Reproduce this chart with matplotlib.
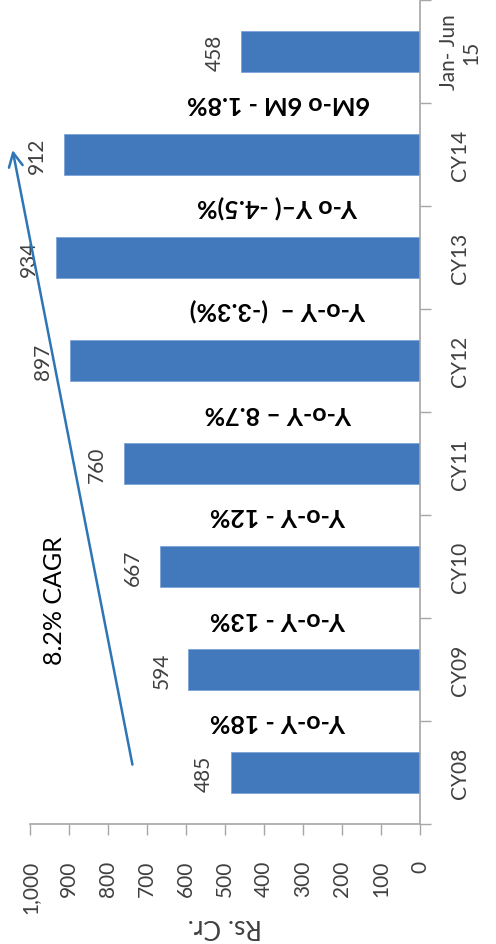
import matplotlib
matplotlib.use("Agg")
import matplotlib.pyplot as plt
import numpy as np

plt.rcParams['font.family'] = ['Lato', 'DejaVu Sans']

categories = ["CY08", "CY09", "CY10", "CY11", "CY12", "CY13", "CY14", "Jan- Jun\n15"]
values = [485, 594, 667, 760, 897, 934, 912, 458]
growth_labels = ["Y-o-Y - 18%", "Y-o-Y - 13%", "Y-o-Y - 12%", "Y-o-Y \u2013 8.7%",
                 "Y-o-Y \u2013  (-3.3%)", "Y-o Y\u2013( -4.5)%", "6M-o 6M - 1.8%"]
value_ticks = [0, 100, 200, 300, 400, 500, 600, 700, 800, 900, 1000]
value_tick_labels = ["0", "100", "200", "300", "400", "500", "600", "700", "800", "900", "1,000"]
cagr_label = "8.2% CAGR"
axis_label = "Rs. Cr."

W, H = 496, 945
fig = plt.figure(figsize=(W / 100, H / 100), dpi=100)
ax = fig.add_axes([30 / W, (H - 825) / H, 390 / W, 824 / H])

bar_color = '#4279BD'
grey = '#A6A6A6'
txt = '#404040'
pos = np.arange(len(categories))
ax.barh(pos, values, height=0.39, color=bar_color, edgecolor='#7DA3D6', linewidth=0.6)

ax.set_xlim(1000, 0)
ax.set_ylim(-0.5, len(categories) - 0.5)

# value axis (bottom)
ax.set_xticks(value_ticks)
ax.set_xticklabels(value_tick_labels, rotation=90, fontsize=15, color=txt)
ax.tick_params(axis='x', direction='out', length=8, width=1, color=grey, pad=18)

# category axis (right)
ax.yaxis.tick_right()
ax.set_yticks(pos)
ax.set_yticklabels(categories, rotation=90, fontsize=15, color=txt, va='center', ha='center', linespacing=1.15)
ax.set_yticks(np.arange(-0.5, len(categories), 1.0), minor=True)
ax.tick_params(axis='y', which='major', length=0, pad=29)
ax.tick_params(axis='y', which='minor', direction='out', length=8, width=1, color=grey)

for s in ['left', 'top']:
    ax.spines[s].set_visible(False)
for s in ['right', 'bottom']:
    ax.spines[s].set_color(grey)
    ax.spines[s].set_linewidth(1.2)

ax.set_xlabel(axis_label, rotation=180, fontsize=19, color=txt, labelpad=0)

# value labels
for i, v in enumerate(values):
    ax.annotate(str(v), xy=(v, i), xytext=(-27, 0), textcoords='offset pixels',
                rotation=90, ha='center', va='center', fontsize=15, color=txt)

# growth labels between bars
for i, lab in enumerate(growth_labels):
    ax.text(364, i + 0.5, lab, rotation=180, ha='center', va='center',
            fontsize=18, fontweight='bold', color='black')

# CAGR arrow
ax.annotate('', xy=(1046, 6.07), xytext=(736, 0.05),
            arrowprops=dict(arrowstyle='->,head_length=1.0,head_width=0.5', color='#2E75B6', lw=1.8),
            annotation_clip=False)
ax.text(936, 1.68, cagr_label, rotation=90, ha='center', va='center', fontsize=18, color='black')

fig.savefig("out.png", dpi=100)
